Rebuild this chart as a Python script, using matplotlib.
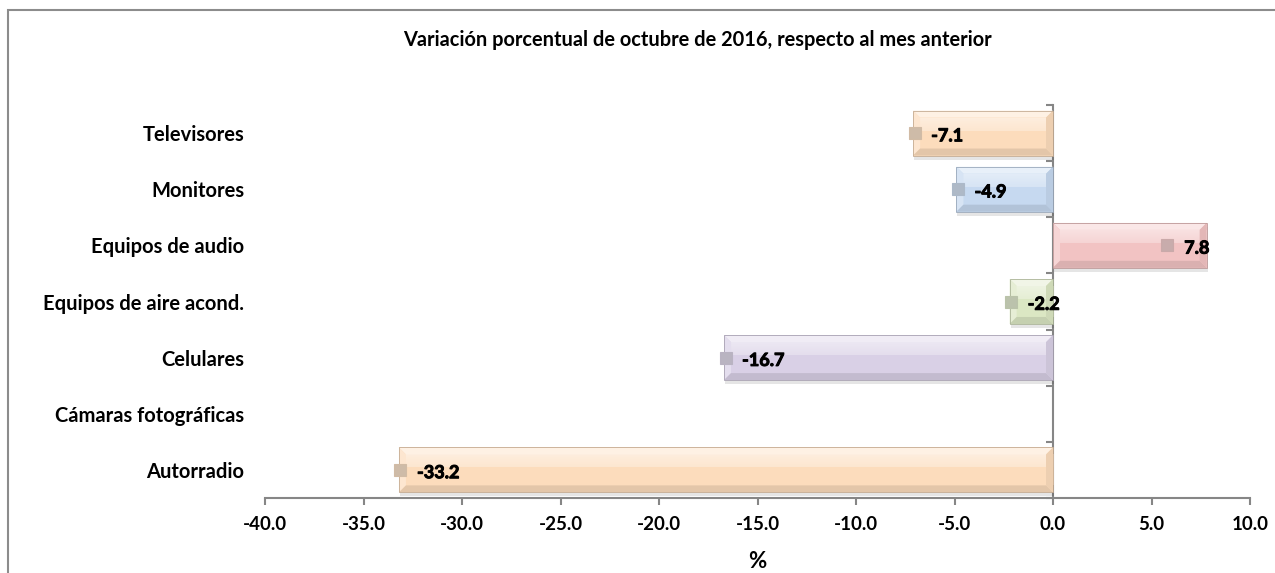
import numpy as np
import matplotlib.pyplot as plt
import matplotlib.patheffects as pe
from matplotlib.colors import to_rgb
from matplotlib.patches import Polygon, Rectangle

plt.rcParams['font.family'] = ['Lato', 'DejaVu Sans']
plt.rcParams['font.weight'] = 'bold'

# data, bottom to top as in the chart
categories = ['Autorradio', 'Cámaras fotográficas', 'Celulares',
              'Equipos de aire acond.', 'Equipos de audio', 'Monitores',
              'Televisores']
values = [-33.2, np.nan, -16.7, -2.2, 7.8, -4.9, -7.1]
bar_colors = ['#FCDCBC', '#FCDCBC', '#D9D0E6', '#DBE7C3', '#F2C3C3',
              '#C6D9F0', '#FCDCBC']
xticks = np.arange(-40, 10.1, 5)
title = 'Variación porcentual de octubre de 2016, respecto al mes anterior'
xlabel = '%'

W, H, DPI = 1275, 573, 100
axis_gray = '#868686'


def mix(c, other, t):
    c = np.array(to_rgb(c))
    o = np.array(to_rgb(other))
    return tuple(c * (1 - t) + o * t)


fig = plt.figure(figsize=(W / DPI, H / DPI), dpi=DPI)
ax = fig.add_axes([265 / W, 1 - 498 / H, 985 / W, 393 / H])

y = np.arange(len(categories))
bars = ax.barh(y, values, height=0.8, color=bar_colors, edgecolor='none',
               zorder=2)

ax.set_xlim(xticks[0], xticks[-1])
ax.set_ylim(-0.5, len(categories) - 0.5)

# pixel sizes in data units
px_x = (xticks[-1] - xticks[0]) / 985
px_y = len(categories) / 393
bev_x, bev_y = 7 * px_x, 7 * px_y
heavy = [pe.withStroke(linewidth=0.7, foreground='black')]

for rect, col, v in zip(bars.patches, bar_colors, values):
    if not np.isfinite(v):
        continue
    x0 = min(rect.get_x(), rect.get_x() + rect.get_width())
    x1 = max(rect.get_x(), rect.get_x() + rect.get_width())
    y0 = rect.get_y()
    y1 = y0 + rect.get_height()

    # soft shadow
    ax.add_patch(Rectangle((x0 + 1 * px_x, y0 - 4 * px_y), x1 - x0, y1 - y0,
                           color='#000000', alpha=0.10, lw=0, zorder=1))

    # face gradient (light top)
    grad = np.linspace(1, 0, 50).reshape(-1, 1)
    c0 = np.array(mix(col, 'white', 0.5))
    c1 = np.array(to_rgb(col))
    img = c1[None, None, :] * (1 - grad[..., None]) + c0[None, None, :] * grad[..., None]
    gy0, gy1 = y0 + bev_y, y1 - bev_y
    ax.imshow(img, extent=(x0, x1, gy0, gy1), origin='upper',
              aspect='auto', zorder=2.5, interpolation='bicubic')
    ax.imshow(np.array(to_rgb(col)).reshape(1, 1, 3),
              extent=(x0, x1, gy0, gy0 + 0.55 * (gy1 - gy0)),
              aspect='auto', zorder=2.6)

    # bevel facets
    facets = [
        ([(x0, y1), (x1, y1), (x1 - bev_x, y1 - bev_y), (x0 + bev_x, y1 - bev_y)],
         mix(col, 'white', 0.6)),
        ([(x0, y0), (x0, y1), (x0 + bev_x, y1 - bev_y), (x0 + bev_x, y0 + bev_y)],
         mix(col, 'white', 0.3)),
        ([(x0, y0), (x1, y0), (x1 - bev_x, y0 + bev_y), (x0 + bev_x, y0 + bev_y)],
         mix(col, 'black', 0.10)),
        ([(x1, y0), (x1, y1), (x1 - bev_x, y1 - bev_y), (x1 - bev_x, y0 + bev_y)],
         mix(col, 'black', 0.06)),
    ]
    for pts, fc in facets:
        ax.add_patch(Polygon(pts, closed=True, fc=fc, ec='none', zorder=3))
    ax.add_patch(Rectangle((x0, y0), x1 - x0, y1 - y0, fill=False,
                           ec=mix(col, 'black', 0.22), lw=0.6, zorder=3.5))

    # data label with legend key
    yc = rect.get_y() + rect.get_height() / 2
    key_fc = mix(col, '#8a8a8a', 0.4)
    key_ec = mix(col, '#6e6e6e', 0.3)
    if v < 0:
        ax.plot([v + 1.5 * px_x], [yc], marker='s', ms=8.5, mfc=key_fc,
                mec=key_ec, mew=0.8, zorder=4, clip_on=False)
        ax.annotate(f'{v:.1f}', (v, yc), xytext=(13, -2),
                    textcoords='offset points', ha='left', va='center',
                    fontsize=13, fontweight='bold', zorder=5,
                    path_effects=heavy)
    else:
        ax.annotate(f'{v:.1f}', (v, yc), xytext=(2, -2),
                    textcoords='offset points', ha='right', va='center',
                    fontsize=13, fontweight='bold', zorder=5,
                    path_effects=heavy)
        ax.plot([v - 40 * px_x], [yc], marker='s', ms=8.5, mfc=key_fc,
                mec=key_ec, mew=0.8, zorder=4)

# axes styling
for side in ['top', 'right', 'left']:
    ax.spines[side].set_visible(False)
ax.spines['bottom'].set_color(axis_gray)
ax.spines['bottom'].set_linewidth(1.5)
ax.set_xticks(xticks)
ax.set_xticklabels([f'{t:.1f}' for t in xticks], fontsize=13.5,
                   fontweight='bold')
ax.tick_params(axis='x', direction='out', length=5, width=1.5,
               color=axis_gray, pad=8)
ax.set_yticks(y)
ax.set_yticklabels(categories, fontsize=14.5, fontweight='bold')
ax.tick_params(axis='y', length=0, pad=15)
ax.set_xlabel(xlabel, fontsize=16, fontweight='bold', labelpad=13)

# vertical category axis at x = 0
zero_pos = (0 - xticks[0]) / (xticks[-1] - xticks[0])
sec = ax.secondary_yaxis(zero_pos)
sec.set_alignment('left')
sec.set_yticks(np.arange(-0.5, len(categories), 1))
sec.set_yticklabels([])
sec.tick_params(direction='out', length=5, width=1.5, color=axis_gray)
for sp in sec.spines.values():
    sp.set_color(axis_gray)
    sp.set_linewidth(1.5)

fig.text(697 / W, 1 - 40 / H, title, ha='center', va='center',
         fontsize=14.4, fontweight='bold')

# chart border (only top and left fall inside the picture)
fig.add_artist(Rectangle((8 / W, -0.2), 1.5, 1.2 - 10 / H,
                         transform=fig.transFigure, fill=False,
                         ec='#8c8c8c', lw=1.5))

fig.savefig('out.png', dpi=DPI)
